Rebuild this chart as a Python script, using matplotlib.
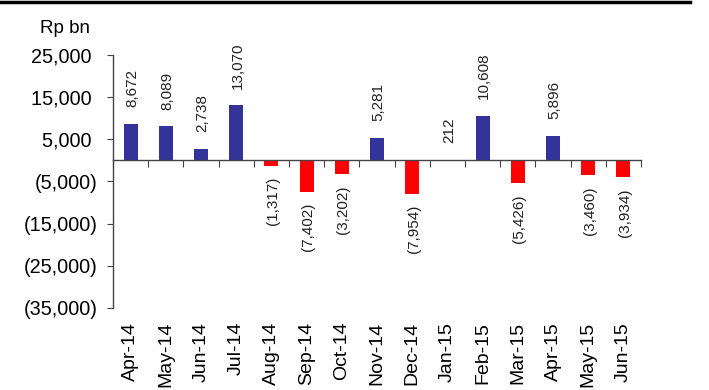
import matplotlib.pyplot as plt
import matplotlib.transforms as mtransforms
import numpy as np

plt.rcParams['font.family'] = ['Liberation Sans', 'DejaVu Sans']

months = ['Apr-14', 'May-14', 'Jun-14', 'Jul-14', 'Aug-14', 'Sep-14', 'Oct-14', 'Nov-14',
          'Dec-14', 'Jan-15', 'Feb-15', 'Mar-15', 'Apr-15', 'May-15', 'Jun-15']
flows = [8672, 8089, 2738, 13070, -1317, -7402, -3202, 5281,
         -7954, 212, 10608, -5426, 5896, -3460, -3934]
yticks = [25000, 15000, 5000, -5000, -15000, -25000, -35000]


def fmt(v):
    # accounting style: negatives in brackets, positives padded
    if v < 0:
        return '({:,})'.format(-v)
    return '{:,} '.format(v)


fig = plt.figure(figsize=(7.09, 3.90), dpi=100)
ax = fig.add_axes([0.1594, 0.2103, 0.7447, 0.6487])

x = np.arange(len(months))
colors = ['#333399' if v >= 0 else '#ff0000' for v in flows]
ax.bar(x, flows, width=0.4, color=colors, zorder=2)

ax.set_xlim(-0.5, len(months) - 0.5)
ax.set_ylim(-35000, 25000)

ax.spines['top'].set_visible(False)
ax.spines['right'].set_visible(False)
ax.spines['bottom'].set_position(('data', 0))
for s in ['left', 'bottom']:
    ax.spines[s].set_color('#444444')
    ax.spines[s].set_linewidth(1.0)

ax.set_yticks(yticks)
ax.set_yticklabels([fmt(v) for v in yticks], fontsize=14.3)
ax.tick_params(axis='y', direction='out', length=4.3, pad=7, color='#444444')

# category boundaries on the zero line
ax.set_xticks(np.arange(len(months) + 1) - 0.5)
ax.set_xticklabels([])
ax.tick_params(axis='x', direction='out', length=5, color='#444444')

# month labels under the plot area
trans = mtransforms.blended_transform_factory(ax.transData, ax.transAxes)
for i, m in enumerate(months):
    ax.annotate(m, (i, 0), xycoords=trans, xytext=(0, -10), textcoords='offset points',
                rotation=90, ha='center', va='top', fontsize=14)

# value labels
for i, v in enumerate(flows):
    if v >= 0:
        ax.annotate(fmt(v).strip(), (i, v), xytext=(1, 12), textcoords='offset points',
                    rotation=90, ha='center', va='bottom', fontsize=11, color='#222222')
    else:
        ax.annotate(fmt(v), (i, v), xytext=(1, -8), textcoords='offset points',
                    rotation=90, ha='center', va='top', fontsize=11, color='#222222')

fig.text(0.056, 0.905, 'Rp bn', fontsize=13.5, ha='left', va='bottom')
fig.add_artist(plt.Line2D([0, 0.973], [0.996, 0.996], color='black', lw=2.5))

fig.savefig('out.png', dpi=100)
